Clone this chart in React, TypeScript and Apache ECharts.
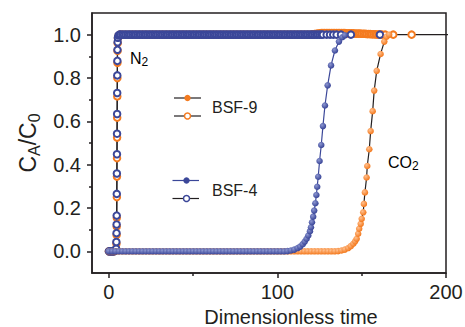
import React, { useEffect, useRef } from "react";
import * as echarts from "echarts";

const NAVY = "#3B4799";
const ORANGE = "#F47B20";
const INK = "#231F20";
const FONT = "'Liberation Sans', Arial, Helvetica, sans-serif";

const xLabelValues = [0, 100, 200];
const xMinorTicks = [50, 150];
const yLabelValues = [0, 0.2, 0.4, 0.6, 0.8, 1.0];
const yMinorTicks = [0.1, 0.3, 0.5, 0.7, 0.9];

// BSF-9, N2 (open orange circles)
const bsf9N2: number[][] = [
  [0, 0], [1, 0], [2, 0], [3, 0], [3.9, 0.003], [4.35, 0.01], [4.5, 0.035], [4.6, 0.075], [4.65, 0.115],
  [4.7, 0.155], [4.75, 0.25], [4.8, 0.345], [4.85, 0.43], [4.9, 0.525], [4.95, 0.617], [5.0, 0.715],
  [5.05, 0.8], [5.1, 0.87], [5.15, 0.925], [5.25, 0.96], [5.4, 0.983], [5.8, 0.995], [6.5, 1],
  [8, 1], [10, 1], [12, 1], [14, 1], [16, 1], [18, 1], [20, 1], [22, 1], [24, 1], [26, 1], [28, 1],
  [30, 1], [32, 1], [34, 1], [36, 1], [38, 1], [40, 1], [42, 1], [44, 1], [46, 1], [48, 1], [50, 1],
  [52, 1], [54, 1], [56, 1], [58, 1], [60, 1], [62, 1], [64, 1], [66, 1], [68, 1], [70, 1], [72, 1],
  [74, 1], [76, 1], [78, 1], [80, 1], [82, 1], [84, 1], [86, 1], [88, 1], [90, 1], [92, 1], [94, 1],
  [96, 1], [98, 1], [100, 1], [102, 1], [104, 1], [106, 1], [108, 1], [110, 1], [112, 1], [114, 1],
  [116, 1], [118, 1], [120, 1.001], [121, 1.002], [122, 1.003], [123, 1.004], [124, 1.005], [125, 1.006],
  [126, 1.007], [127, 1.007], [128, 1.007], [129, 1.007], [130, 1.007], [131, 1.007], [132, 1.007],
  [133, 1.007], [134, 1.007], [135, 1.007], [136, 1.007], [137, 1.007], [138, 1.007], [139, 1.007],
  [140, 1.007], [141, 1.006], [142, 1.006], [143, 1.006], [144, 1.006], [145, 1.006], [146, 1.005],
  [147, 1.005], [148, 1.005], [149, 1.005], [150, 1.004], [151, 1.004], [152, 1.004], [153, 1.003],
  [154, 1.003], [155, 1.003], [156, 1.002], [157, 1.002], [158, 1.002], [159, 1.001], [160, 1.001],
  [161, 1.001], [162, 1], [163.9, 1], [168.7, 1], [179.6, 1], [215, 1],
];

// BSF-4, N2 (open navy circles)
const bsf4N2: number[][] = [
  [0, 0], [1, 0], [2, 0], [3, 0], [3.8, 0.003], [4.3, 0.012], [4.45, 0.043], [4.55, 0.084], [4.6, 0.124],
  [4.65, 0.165], [4.7, 0.265], [4.75, 0.359], [4.8, 0.448], [4.85, 0.543], [4.9, 0.634], [4.95, 0.731],
  [5.0, 0.812], [5.05, 0.879], [5.1, 0.93], [5.2, 0.965], [5.35, 0.986], [5.7, 0.996], [6.3, 1],
  [7, 1], [8, 1], [9, 1], [10, 1], [11, 1], [12, 1], [13, 1], [14, 1], [15, 1], [16, 1],
  [17, 1], [18, 1], [19, 1], [20, 1], [21, 1], [22, 1], [23, 1], [24, 1], [25, 1], [26, 1],
  [27, 1], [28, 1], [29, 1], [30, 1], [31, 1], [32, 1], [33, 1], [34, 1], [35, 1], [36, 1],
  [37, 1], [38, 1], [39, 1], [40, 1], [41, 1], [42, 1], [43, 1], [44, 1], [45, 1], [46, 1],
  [47, 1], [48, 1], [49, 1], [50, 1], [51, 1], [52, 1], [53, 1], [54, 1], [55, 1], [56, 1],
  [57, 1], [58, 1], [59, 1], [60, 1], [61, 1], [62, 1], [63, 1], [64, 1], [65, 1], [66, 1],
  [67, 1], [68, 1], [69, 1], [70, 1], [71, 1], [72, 1], [73, 1], [74, 1], [75, 1], [76, 1],
  [77, 1], [78, 1], [79, 1], [80, 1], [81, 1], [82, 1], [83, 1], [84, 1], [85, 1], [86, 1],
  [87, 1], [88, 1], [89, 1], [90, 1], [91, 1], [92, 1], [93, 1], [94, 1], [95, 1], [96, 1],
  [97, 1], [98, 1], [99, 1], [100, 1], [101, 1], [102, 1], [103, 1], [104, 1], [105, 1], [106, 1],
  [107, 1], [108, 1], [109, 1], [110, 1], [111, 1], [112, 1], [113, 1], [114, 1], [115, 1], [116, 1],
  [117, 1], [118, 1], [119, 1], [120, 1], [121, 1], [122, 1], [123, 1], [124, 1], [125, 1], [126, 1],
  [127, 1], [129.2, 1], [131.2, 1], [133.1, 1], [135.1, 1], [137.7, 1], [143.6, 1], [160.8, 1],
];

// BSF-9, CO2 (filled orange circles)
const bsf9Co2: number[][] = [
  [0, 0], [2, 0], [4, 0], [6, 0], [8, 0], [10, 0], [12, 0], [14, 0], [16, 0], [18, 0], [20, 0],
  [22, 0], [24, 0], [26, 0], [28, 0], [30, 0], [32, 0], [34, 0], [36, 0], [38, 0], [40, 0],
  [42, 0], [44, 0], [46, 0], [48, 0], [50, 0], [52, 0], [54, 0], [56, 0], [58, 0], [60, 0],
  [62, 0], [64, 0], [66, 0], [68, 0], [70, 0], [72, 0], [74, 0], [76, 0], [78, 0], [80, 0],
  [82, 0], [84, 0], [86, 0], [88, 0], [90, 0], [92, 0], [94, 0], [96, 0], [98, 0], [100, 0],
  [102, 0], [104, 0], [106, 0], [108, 0], [110, 0], [112, 0], [114, 0], [116, 0], [118, 0], [120, 0],
  [122, 0], [124, 0], [126, 0], [128, 0], [130, 0], [132, 0], [134, 0], [136, 0.001],
  [138, 0.004], [140, 0.008], [142, 0.015], [143.5, 0.024], [145, 0.035], [146.1, 0.046], [147, 0.058],
  [147.9, 0.081], [148.5, 0.104], [149.4, 0.127], [150, 0.15], [150.9, 0.18], [151.3, 0.219],
  [151.9, 0.272], [152.9, 0.341], [153.3, 0.394], [154.5, 0.471], [155.3, 0.555], [156.5, 0.647],
  [157.4, 0.742], [158.9, 0.833], [161.2, 0.911], [163.4, 0.968], [164.8, 0.991], [166.3, 1.0],
];

// BSF-4, CO2 (filled navy circles)
const bsf4Co2: number[][] = [
  [0, 0], [2, 0], [4, 0], [6, 0], [8, 0], [10, 0], [12, 0], [14, 0], [16, 0], [18, 0], [20, 0],
  [22, 0], [24, 0], [26, 0], [28, 0], [30, 0], [32, 0], [34, 0], [36, 0], [38, 0], [40, 0],
  [42, 0], [44, 0], [46, 0], [48, 0], [50, 0], [52, 0], [54, 0], [56, 0], [58, 0], [60, 0],
  [62, 0], [64, 0], [66, 0], [68, 0], [70, 0], [72, 0], [74, 0], [76, 0], [78, 0], [80, 0],
  [82, 0], [84, 0], [86, 0], [88, 0], [90, 0], [92, 0], [94, 0], [96, 0], [98, 0], [100, 0],
  [102, 0], [104, 0], [106, 0.001], [108, 0.004], [110, 0.008], [112, 0.015], [113.5, 0.022],
  [115, 0.033], [116.2, 0.045], [117.3, 0.058], [118.3, 0.073], [119.3, 0.093], [119.9, 0.111],
  [120.5, 0.134], [121.2, 0.16], [121.8, 0.188], [122.5, 0.222], [123.1, 0.26], [123.6, 0.298],
  [124.2, 0.344], [125.0, 0.417], [126.0, 0.491], [127.0, 0.578], [128.2, 0.673], [129.8, 0.766],
  [131.8, 0.858], [134.1, 0.927], [136.5, 0.968], [138.5, 0.988], [140, 0.997],
];

const subRich = {
  m: { fontSize: 16, fontFamily: FONT, color: INK, lineHeight: 20 },
  s: { fontSize: 12, fontFamily: FONT, color: INK, lineHeight: 12, verticalAlign: "bottom" },
};

function sphere(base: string, light: string) {
  return new echarts.graphic.RadialGradient(0.38, 0.35, 0.62, [
    { offset: 0, color: light },
    { offset: 1, color: base },
  ]);
}

export default function App() {
  const ref = useRef<HTMLDivElement>(null);

  useEffect(() => {
    if (!ref.current) return;
    const chart = echarts.init(ref.current, null, { renderer: "svg" });

    const openSeries = (name: string, data: number[][], edge: string) => ({
      name,
      type: "line",
      data,
      symbol: "circle",
      symbolSize: 6.5,
      showSymbol: true,
      showAllSymbol: true,
      lineStyle: { color: INK, width: 1.2 },
      itemStyle: { color: "#ffffff", borderColor: edge, borderWidth: 2 },
      emphasis: { disabled: true },
    });
    const filledSeries = (name: string, data: number[][], base: string, light: string, line: string) => ({
      name,
      type: "line",
      data,
      symbol: "circle",
      symbolSize: 6.5,
      showSymbol: true,
      showAllSymbol: true,
      lineStyle: { color: line, width: 1.2 },
      itemStyle: { color: sphere(base, light), borderWidth: 0 },
      emphasis: { disabled: true },
    });

    chart.setOption({
      animation: false,
      backgroundColor: "#ffffff",
      grid: {
        left: 92,
        right: 19,
        top: 13,
        bottom: 54,
        show: true,
        borderColor: INK,
        borderWidth: 1.5,
        backgroundColor: "transparent",
        outerBoundsMode: "none",
      },
      xAxis: [
        {
          type: "value",
          min: -10,
          max: 200,
          name: "Dimensionless time",
          nameLocation: "middle",
          nameGap: 31,
          nameTextStyle: { fontSize: 20, fontFamily: FONT, color: INK, padding: [0, 0, 0, 44] },
          axisLine: { show: true, onZero: false, lineStyle: { color: INK, width: 1.5 } },
          axisTick: { show: true, customValues: xLabelValues, length: 5, lineStyle: { color: INK, width: 1.5 } },
          axisLabel: { customValues: xLabelValues, fontSize: 20, fontFamily: FONT, color: INK, margin: 9 },
          splitLine: { show: false },
        },
        {
          type: "value",
          min: -10,
          max: 200,
          position: "bottom",
          axisLine: { show: false, onZero: false },
          axisTick: { show: true, customValues: xMinorTicks, length: 3, lineStyle: { color: INK, width: 1.5 } },
          axisLabel: { show: false },
          splitLine: { show: false },
        },
      ],
      yAxis: [
        {
          type: "value",
          min: -0.1,
          max: 1.1,
          name: "{m|C}{s|A}{m|/C}{s|0}",
          nameLocation: "middle",
          nameGap: 50,
          nameTextStyle: {
            rich: {
              m: { fontSize: 23, fontFamily: FONT, color: INK, lineHeight: 28 },
              s: { fontSize: 16, fontFamily: FONT, color: INK, lineHeight: 16, verticalAlign: "bottom" },
            },
          },
          axisLine: { show: true, onZero: false, lineStyle: { color: INK, width: 1.5 } },
          axisTick: { show: true, customValues: yLabelValues, length: 5, lineStyle: { color: INK, width: 1.5 } },
          axisLabel: {
            customValues: yLabelValues,
            fontSize: 20,
            fontFamily: FONT,
            color: INK,
            margin: 11,
            formatter: (v: number) => v.toFixed(1),
          },
          splitLine: { show: false },
        },
        {
          type: "value",
          min: -0.1,
          max: 1.1,
          position: "left",
          axisLine: { show: false, onZero: false },
          axisTick: { show: true, customValues: yMinorTicks, length: 3, lineStyle: { color: INK, width: 1.5 } },
          axisLabel: { show: false },
          splitLine: { show: false },
        },
      ],
      series: [
        openSeries("BSF-9 N2", bsf9N2, ORANGE),
        openSeries("BSF-4 N2", bsf4N2, NAVY),
        filledSeries("BSF-9 CO2", bsf9Co2, ORANGE, "#FFC08F", INK),
        filledSeries("BSF-4 CO2", bsf4Co2, NAVY, "#8C96D0", NAVY),
      ],
      graphic: [
        { type: "line", shape: { x1: 174, y1: 98, x2: 201, y2: 98 }, style: { stroke: INK, lineWidth: 1.2 } },
        { type: "circle", shape: { cx: 187.5, cy: 98, r: 3.2 }, style: { fill: ORANGE } },
        { type: "line", shape: { x1: 174, y1: 116, x2: 201, y2: 116 }, style: { stroke: INK, lineWidth: 1.2 } },
        { type: "circle", shape: { cx: 187.5, cy: 116, r: 3 }, style: { fill: "#fff", stroke: ORANGE, lineWidth: 1.5 } },
        {
          type: "text",
          x: 212,
          y: 107,
          style: { text: "BSF-9", fontSize: 16, fontFamily: FONT, fill: INK, verticalAlign: "middle" },
        },
        { type: "line", shape: { x1: 172.5, y1: 180.5, x2: 199, y2: 180.5 }, style: { stroke: NAVY, lineWidth: 1.2 } },
        { type: "circle", shape: { cx: 186.5, cy: 180.5, r: 3.2 }, style: { fill: NAVY } },
        { type: "line", shape: { x1: 172.5, y1: 198.5, x2: 199, y2: 198.5 }, style: { stroke: INK, lineWidth: 1.2 } },
        { type: "circle", shape: { cx: 186.5, cy: 198.5, r: 3 }, style: { fill: "#fff", stroke: NAVY, lineWidth: 1.5 } },
        {
          type: "text",
          x: 212,
          y: 190,
          style: { text: "BSF-4", fontSize: 16, fontFamily: FONT, fill: INK, verticalAlign: "middle" },
        },
        {
          type: "text",
          x: 130,
          y: 58,
          style: { text: "{m|N}{s|2}", rich: subRich, verticalAlign: "middle" },
        },
        {
          type: "text",
          x: 388,
          y: 162,
          style: { text: "{m|CO}{s|2}", rich: subRich, verticalAlign: "middle" },
        },
      ],
    });

    return () => chart.dispose();
  }, []);

  return (
    <div
      ref={ref}
      style={{ position: "fixed", left: 0, top: 0, width: 465, height: 327, background: "#fff" }}
    />
  );
}
